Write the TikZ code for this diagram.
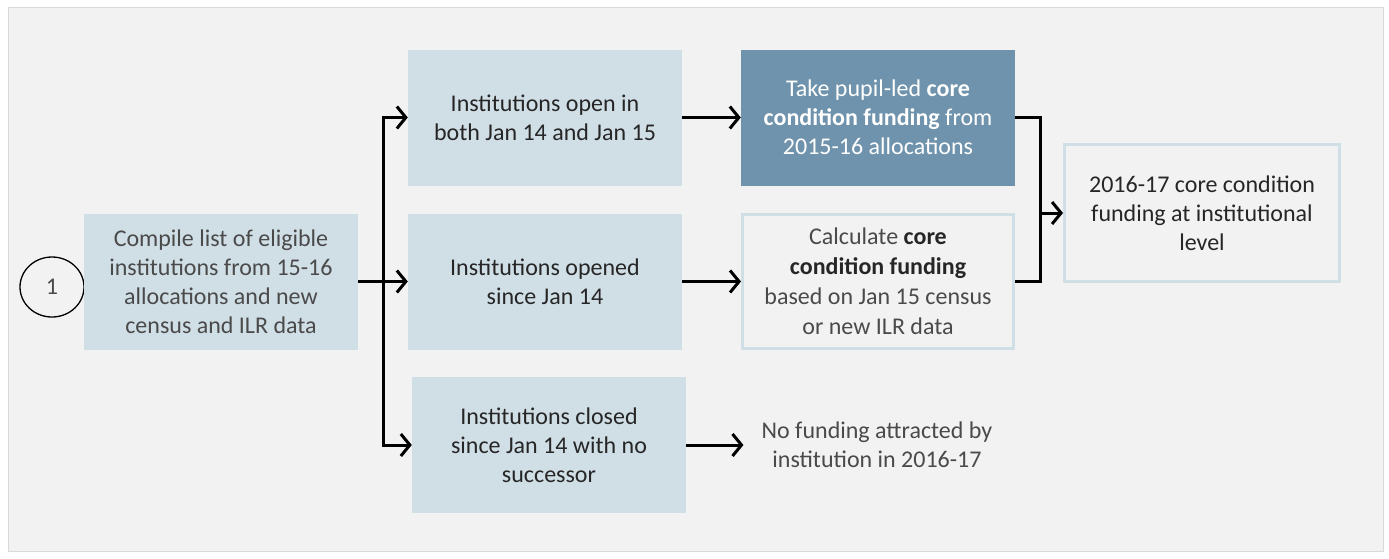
\documentclass[tikz,border=0pt]{standalone}
\usepackage{fontspec}
\setmainfont{Carlito}
\usetikzlibrary{arrows.meta,shapes.geometric}
\definecolor{panelgrey}{HTML}{F2F2F2}
\definecolor{paleblue}{HTML}{D0DEE6}
\definecolor{steelblue}{HTML}{6F93AC}
\definecolor{darktext}{HTML}{262626}
\definecolor{softtext}{HTML}{4A4A4A}
\begin{document}
\begin{tikzpicture}[x = 1pt, y = -1pt,
        every node/.style = {font = \fontsize{24}{29}\selectfont, align = center, text = darktext, inner sep = 0pt},
        stage/.style = {fill = paleblue, minimum width = 274pt, minimum height = 136pt},
        outlined/.style = {draw = paleblue, line width = 3pt, minimum width = 271pt, minimum height = 134pt},
        link/.style = {line width = 3pt},
        flow/.style = {link, -{Straight Barb[length = 9pt, width = 22pt]}}]
    \useasboundingbox (0,0) rectangle (1389,558);
    \fill[white] (0,0) rectangle (1389,558);
    \draw[draw = gray!30, fill = panelgrey] (8,7) rectangle (1383,551);
    \node[ellipse, draw, line width = 1.3pt, minimum width = 64pt, minimum height = 60pt, text = softtext] (step1) at (52,287) {1};
    \node[stage, text = softtext] (compile) at (221,281.5) {Compile list of eligible\\institutions from 15-16\\allocations and new\\census and ILR data};
    \node[stage] (open14) at (545,117.5) {Institutions open in\\both Jan 14 and Jan 15};
    \node[stage] (opened) at (545,281.5) {Institutions opened\\since Jan 14};
    \node[stage] (closed) at (549,445) {Institutions closed\\since Jan 14 with no\\successor};
    \node[stage, fill = steelblue, text = white] (take) at (878,117.5) {Take pupil-led \textbf{core}\\\textbf{condition funding} from\\2015-16 allocations};
    \node[outlined, text = softtext, font = \fontsize{24}{30}\selectfont] (calc) at (878,281.5) {Calculate \textcolor{darktext}{\textbf{core}}\\\textcolor{darktext}{\textbf{condition funding}}\\based on Jan 15 census\\or new ILR data};
    \node[outlined, minimum width = 275pt, minimum height = 137pt] (total) at (1202,213) {2016-17 core condition\\funding at institutional\\level};
    \node[text = softtext, inner xsep = 18pt] (nofund) at (877,445) {No funding attracted by\\institution in 2016-17};
    \coordinate (split) at (383,281.5);
    \coordinate (merge) at (1040,213);
    \draw[flow] (compile.east) -- (opened.west);
    \draw[flow] (split) |- (open14.west);
    \draw[flow] (split) |- (closed.west);
    \draw[flow] (open14.east) -- (take.west);
    \draw[flow] (opened.east) -- (calc.west);
    \draw[flow] (closed.east) -- (nofund.west);
    \draw[link] (take.east) -| (merge);
    \draw[link] (calc.east) -| (merge);
    \draw[flow] (merge) -- (total.west);
\end{tikzpicture}
\end{document}
